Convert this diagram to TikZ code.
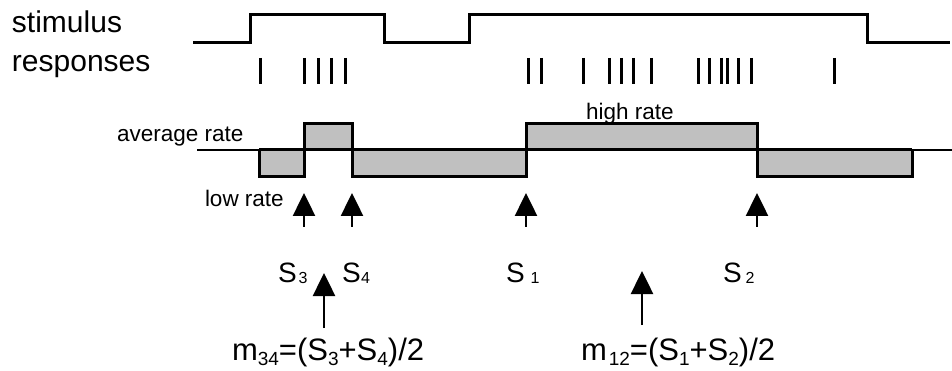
\documentclass[tikz,border=0pt]{standalone}
\usepackage{fontspec}
\setmainfont{Liberation Sans}
\usetikzlibrary{arrows.meta}
\newcommand{\lowsub}[3]{\raisebox{-#1pt}{\fontsize{#2}{#2}\selectfont #3}}
\definecolor{rategray}{HTML}{C0C0C0}
\begin{document}
\begin{tikzpicture}[x=1pt,y=-1pt,
  lbl/.style={inner sep=0pt,outer sep=0pt,anchor=base west},
  biglbl/.style={lbl,font=\fontsize{30}{34}\selectfont},
  smalllbl/.style={lbl,font=\fontsize{22.5}{26}\selectfont},
  slbl/.style={lbl,font=\fontsize{28}{30}\selectfont},
  formula/.style={lbl,font=\fontsize{31}{36}\selectfont},
  wave/.style={line width=3pt,line join=miter,line cap=butt},
  spike/.style={line width=3pt},
  uparrow/.style={line width=2.5pt,-{Triangle[width=22pt,length=23pt]}},
]
\useasboundingbox (0,0) rectangle (952,371);
% labels
\node[biglbl] (stim) at (12,33) {stimulus};
\node[biglbl] (resp) at (12,72) {responses};
\node[smalllbl] (avg) at (117,142) {average rate};
\node[smalllbl] (low) at (205,207) {low rate};
\node[smalllbl] (high) at (586,120) {high rate};
% stimulus trace
\draw[wave] (193,42.5) -- (250,42.5) -- (250,15) -- (384,15) -- (384,42.5)
  -- (469,42.5) -- (469,15) -- (867,15) -- (867,42.5) -- (950,42.5);
% responses
\foreach \x in {260,304,318,331,345,528,541,583,609,621,633,651,698,709,721,727,738,751,834}
  \draw[spike] (\x,58) -- (\x,84);
% average rate
\fill[rategray] (259,150) rectangle (304,177);
\fill[rategray] (304,124) rectangle (352,150);
\fill[rategray] (352,150) rectangle (526,177);
\fill[rategray] (526,124) rectangle (757,150);
\fill[rategray] (757,150) rectangle (912,177);
\draw[line width=1.5pt] (197,150) -- (952,150);
\draw[wave] (259,150) -- (912,150);
\draw[wave] (259,150) -- (259,177) -- (304,177) -- (304,124) -- (352,124) -- (352,177)
  -- (526,177) -- (526,124) -- (757,124) -- (757,177) -- (912,177) -- (912,150);
% switch-point arrows
\foreach \n/\x in {a3/304,a4/352,a1/526,a2/757}{
  \coordinate (\n tail) at (\x,227);
  \coordinate (\n tip) at (\x,193);
  \draw[uparrow] (\n tail) -- (\n tip);
}
% S labels
\node[slbl] (S3) at (278,282) {S\hspace{2pt}\lowsub{1.5}{16}{3}};
\node[slbl] (S4) at (342,282) {S\hspace{0.5pt}\lowsub{1.5}{16}{4}};
\node[slbl] (S1) at (506,282) {S\hspace{6pt}\lowsub{1.5}{16}{1}};
\node[slbl] (S2) at (723,282) {S\hspace{4pt}\lowsub{1.5}{16}{2}};
% midpoint formulas
\node[formula] (m34) at (232,360) {m\lowsub{5}{19}{34}=(S\lowsub{5}{19}{3}+S\lowsub{5}{19}{4})/2};
\node[formula] (m12) at (581,360) {m\hspace{2pt}\lowsub{5}{19}{12}=(S\lowsub{5}{19}{1}+S\lowsub{5}{19}{2})/2};
\coordinate (m34tail) at (324,328);
\coordinate (m34tip) at (324,273);
\coordinate (m12tail) at (642,325);
\coordinate (m12tip) at (642,271);
\draw[uparrow] (m34tail) -- (m34tip);
\draw[uparrow] (m12tail) -- (m12tip);
\end{tikzpicture}
\end{document}
